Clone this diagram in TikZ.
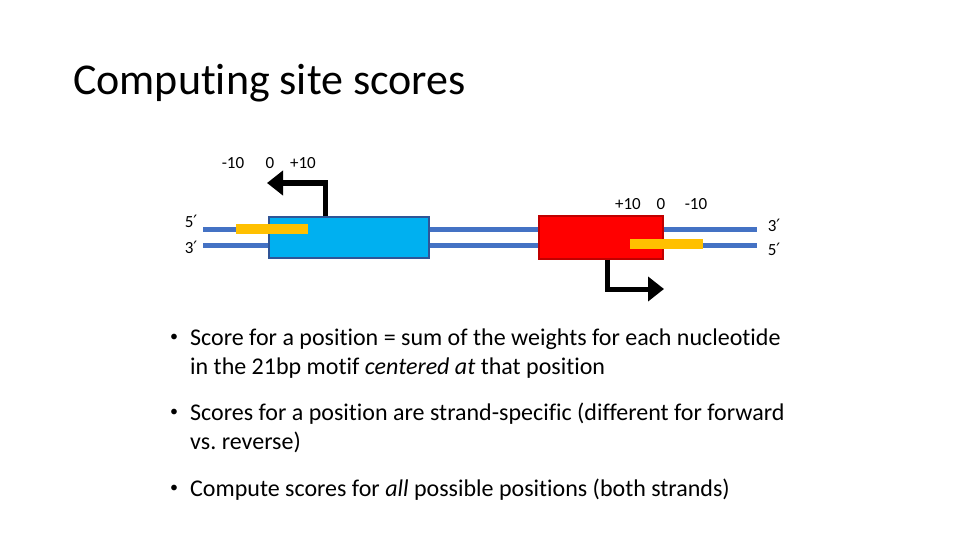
\documentclass[tikz,border=0pt]{standalone}
\usepackage{fontspec}
\setmainfont{Carlito}[Ligatures=NoCommon]
\newfontfamily\primefont{DejaVu Sans}
\newcommand{\prm}{{\primefont ′}}
\usetikzlibrary{arrows.meta}
\frenchspacing
\definecolor{strandblue}{HTML}{4472C4}
\definecolor{boxblue}{HTML}{00B0F0}
\definecolor{boxblueedge}{HTML}{2F5597}
\definecolor{boxred}{HTML}{FF0000}
\definecolor{boxrededge}{HTML}{C00000}
\definecolor{motif}{HTML}{FFC000}
\tikzset{
  strand/.style={draw=strandblue, line width=5pt},
  motifbar/.style={fill=motif, draw=none},
  tss/.style={draw=black, line width=5pt, -{Triangle[width=24pt,length=16pt]}},
  poslabel/.style={font=\fontsize{17}{19}\selectfont, inner sep=0pt},
  endlabel/.style={font=\fontsize{17}{19}\selectfont, inner sep=0pt},
  bullettext/.style={font=\fontsize{24}{28}\selectfont, inner sep=0pt, anchor=base west},
  bulletdot/.style={font=\fontsize{16}{18}\selectfont, inner sep=0pt},
}
\begin{document}
\begin{tikzpicture}[x=1pt,y=-1pt]
\useasboundingbox (0,0) rectangle (960,540);
% title
\node[anchor=base west, inner sep=0pt, font=\fontsize{44}{50}\selectfont] (title) at (73,95) {Computing site scores};

% strands
\coordinate (s1l) at (203,229); \coordinate (s1r) at (757,229);
\coordinate (s2l) at (203,245); \coordinate (s2r) at (757,245);
\draw[strand] (s1l) -- (s1r);
\draw[strand] (s2l) -- (s2r);

% site boxes
\node[draw=boxblueedge, fill=boxblue, line width=1.2pt, inner sep=0pt, minimum width=160pt, minimum height=41pt] (blue) at (349,237.5) {};
\node[draw=boxrededge, fill=boxred, line width=1.2pt, inner sep=0pt, minimum width=124pt, minimum height=43pt] (red) at (601,237.5) {};

% motif bars
\path[motifbar] (236,224) rectangle (308,234);
\path[motifbar] (630,239) rectangle (703,249);

% TSS arrows
\coordinate (a1c) at (325,183); \coordinate (a1e) at (267,183);
\draw[tss] (blue.north -| a1c) -- (a1c) -- (a1e);
\coordinate (a2c) at (607,289); \coordinate (a2e) at (664,289);
\draw[tss] (red.south -| a2c) -- (a2c) -- (a2e);

% position labels
\node[poslabel] (l1) at (233,163) {-10};
\node[poslabel] (l2) at (270,163) {0};
\node[poslabel] (l3) at (303,163) {+10};
\node[poslabel] (r1) at (628,204) {+10};
\node[poslabel] (r2) at (661,204) {0};
\node[poslabel] (r3) at (696,204) {-10};

% strand ends
\node[endlabel] (e1) at (191,221) {5\prm};
\node[endlabel] (e2) at (191,247) {3\prm};
\node[endlabel] (e3) at (774,225) {3\prm};
\node[endlabel] (e4) at (774,249) {5\prm};

% bullets
\node[bulletdot] (b1) at (174,338) {•};
\node[bullettext] (t1a) at (190,345) {Score for a position = sum of the weights for each nucleotide};
\node[bullettext] (t1b) at (190,374) {in the 21bp motif \textit{centered at} that position};
\node[bulletdot] (b2) at (174,413) {•};
\node[bullettext] (t2a) at (190,420) {Scores for a position are strand-specific (different for forward};
\node[bullettext] (t2b) at (190,449) {vs. reverse)};
\node[bulletdot] (b3) at (174,489) {•};
\node[bullettext] (t3) at (190,496) {Compute scores for \textit{all} possible positions (both strands)};
\end{tikzpicture}
\end{document}
